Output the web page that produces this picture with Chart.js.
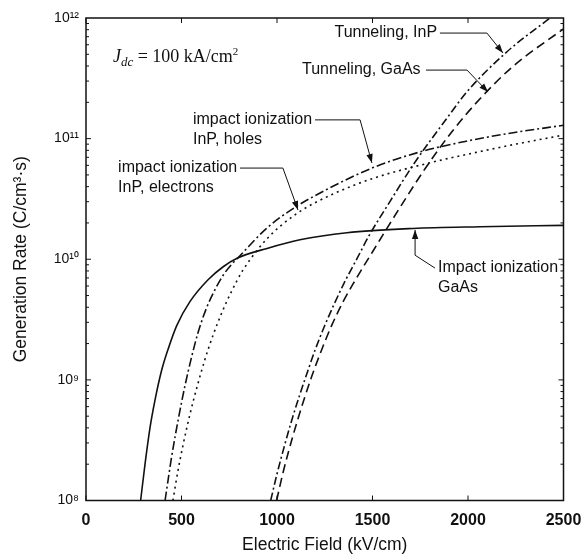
<!DOCTYPE html>
<html>
<head>
<meta charset="utf-8">
<script src="https://cdn.jsdelivr.net/npm/chart.js@4.4.1/dist/chart.umd.min.js"></script>
<style>
html,body{margin:0;padding:0;background:#fff;}
#wrap{width:584px;height:559px;position:relative;}
</style>
</head>
<body>
<div id="wrap"><canvas id="c" width="584" height="559"></canvas></div>
<script>
// ---- axis ticks ----
const xTicks = [0, 500, 1000, 1500, 2000, 2500];
const xTickLabels = ['0', '500', '1000', '1500', '2000', '2500'];
const yTicks = [1e8, 1e9, 1e10, 1e11, 1e12];
const yTickLabels = ['10⁸', '10⁹', '10¹⁰', '10¹¹', '10¹²'];

// ---- series (Electric field kV/cm, generation rate C/cm3·s) ----
const gaasImpactField = [286, 309, 335, 361, 396, 429, 475, 545, 639, 720, 791, 948, 1120, 1366, 1712, 2063, 2500];
const gaasImpactRate  = [1e8, 2.0e8, 4.0e8, 6.76e8, 1.2e9, 1.78e9, 2.82e9, 4.47e9, 6.76e9, 8.71e9, 1.02e10, 1.23e10, 1.45e10, 1.66e10, 1.8e10, 1.86e10, 1.91e10];

const inpHolesField = [414, 429, 448, 484, 518, 553, 588, 632, 676, 719, 764, 806, 948, 1084, 1262, 1503, 1749, 1995, 2236, 2500];
const inpHolesRate  = [1e8, 1.45e8, 2.29e8, 4.79e8, 8.91e8, 1.55e9, 2.51e9, 3.98e9, 5.62e9, 7.41e9, 9.12e9, 1.07e10, 1.82e10, 2.63e10, 3.8e10, 5.75e10, 7.76e10, 9.55e10, 1.12e11, 1.29e11];

const inpElectronsField = [455, 482, 508, 545, 581, 623, 665, 712, 764, 822, 948, 1105, 1293, 1503, 1801, 2026, 2236, 2500];
const inpElectronsRate  = [1e8, 1.78e8, 2.88e8, 5.25e8, 8.71e8, 1.48e9, 2.34e9, 3.63e9, 5.5e9, 8.13e9, 1.48e10, 2.4e10, 3.47e10, 4.68e10, 6.31e10, 7.59e10, 8.91e10, 1.07e11];

const inpTunnelField = [967, 1000, 1040, 1080, 1120, 1160, 1200, 1250, 1300, 1360, 1420, 1480, 1592, 1712, 1890, 1995, 2204, 2429];
const inpTunnelRate  = [1e8, 1.66e8, 2.88e8, 4.79e8, 7.59e8, 1.17e9, 1.78e9, 2.82e9, 4.27e9, 6.76e9, 1.02e10, 1.55e10, 3.02e10, 6.03e10, 1.48e11, 2.45e11, 5.25e11, 1e12];

const gaasTunnelField = [998, 1033, 1086, 1138, 1182, 1234, 1286, 1347, 1400, 1539, 1644, 1775, 1921, 2063, 2236, 2500];
const gaasTunnelRate  = [1e8, 1.74e8, 3.55e8, 6.61e8, 1.07e9, 1.78e9, 2.82e9, 4.47e9, 6.31e9, 1.45e10, 2.69e10, 5.62e10, 1.17e11, 2.14e11, 3.98e11, 8.13e11];

const pts = (xs, ys) => xs.map((x, i) => ({x: x, y: ys[i]}));
const INK = '#111';
const SANS = '"Liberation Sans", Arial, sans-serif';
const SERIF = '"Liberation Serif", "Times New Roman", serif';

function ds(label, xs, ys, dash) {
  return {
    label: label,
    data: pts(xs, ys),
    borderColor: INK,
    borderWidth: 1.6,
    borderDash: dash,
    pointRadius: 0,
    fill: false,
    cubicInterpolationMode: 'monotone'
  };
}

// ---- annotations (anchors in data units) ----
const notes = [
  {lines: ['Tunneling, InP'], x: 1838, y: 7.5e11, align: 'right',
   path: [[1853, 7.5e11], [2099, 7.5e11], [2183, 5.13e11]]},
  {lines: ['Tunneling, GaAs'], x: 1131, y: 3.7e11, align: 'left',
   path: [[1780, 3.7e11], [1995, 3.7e11], [2105, 2.43e11]]},
  {lines: ['impact ionization', 'InP, holes'], x: 560, y: 1.43e11, align: 'left',
   path: [[1199, 1.43e11], [1435, 1.43e11], [1497, 6.28e10]]},
  {lines: ['impact ionization', 'InP, electrons'], x: 168, y: 5.7e10, align: 'left',
   path: [[806, 5.7e10], [1031, 5.7e10], [1110, 2.56e10]]},
  {lines: ['Impact ionization', 'GaAs'], x: 1843, y: 8.45e9, align: 'left',
   path: [[1827, 8.45e9], [1723, 1.08e10], [1723, 1.75e10]]}
];

const framePlugin = {
  id: 'frame',
  afterDatasetsDraw(chart) {
    const {ctx, chartArea: a, scales: {x, y}} = chart;
    ctx.save();
    ctx.strokeStyle = INK;
    ctx.lineWidth = 1.5;
    ctx.setLineDash([]);
    ctx.strokeRect(a.left, a.top, a.right - a.left, a.bottom - a.top);
    ctx.lineWidth = 1;
    ctx.beginPath();
    xTicks.forEach(v => {
      const px = x.getPixelForValue(v);
      ctx.moveTo(px, a.bottom); ctx.lineTo(px, a.bottom - 5);
      ctx.moveTo(px, a.top); ctx.lineTo(px, a.top + 5);
    });
    for (let e = 8; e < 12; e++) {
      for (let m = 1; m < 10; m++) {
        const py = y.getPixelForValue(m * Math.pow(10, e));
        const L = m === 1 ? 5 : 3;
        ctx.moveTo(a.left, py); ctx.lineTo(a.left + L, py);
        ctx.moveTo(a.right, py); ctx.lineTo(a.right - L, py);
      }
    }
    ctx.stroke();

    // annotation texts and leaders
    ctx.fillStyle = INK;
    ctx.font = '16px ' + SANS;
    ctx.textBaseline = 'middle';
    notes.forEach(n => {
      const tx = x.getPixelForValue(n.x);
      const ty = y.getPixelForValue(n.y);
      ctx.textAlign = n.align;
      n.lines.forEach((t, i) => ctx.fillText(t, tx, ty + i * 20));
      const P = n.path.map(p => [x.getPixelForValue(p[0]), y.getPixelForValue(p[1])]);
      ctx.lineWidth = 1;
      ctx.beginPath();
      ctx.moveTo(P[0][0], P[0][1]);
      for (let i = 1; i < P.length; i++) ctx.lineTo(P[i][0], P[i][1]);
      ctx.stroke();
      const [x1, y1] = P[P.length - 2];
      const [x2, y2] = P[P.length - 1];
      const ang = Math.atan2(y2 - y1, x2 - x1);
      const L = 9, W = 3.2;
      ctx.beginPath();
      ctx.moveTo(x2, y2);
      ctx.lineTo(x2 - L * Math.cos(ang) + W * Math.sin(ang), y2 - L * Math.sin(ang) - W * Math.cos(ang));
      ctx.lineTo(x2 - L * Math.cos(ang) - W * Math.sin(ang), y2 - L * Math.sin(ang) + W * Math.cos(ang));
      ctx.closePath();
      ctx.fill();
    });

    // J_dc label
    let jx = x.getPixelForValue(141);
    const jy = y.getPixelForValue(4.3e11);
    ctx.textAlign = 'left';
    ctx.textBaseline = 'alphabetic';
    ctx.font = 'italic 18px ' + SERIF;
    ctx.fillText('J', jx, jy); jx += ctx.measureText('J').width;
    ctx.font = 'italic 13px ' + SERIF;
    ctx.fillText('dc', jx, jy + 4); jx += ctx.measureText('dc').width;
    ctx.font = '18px ' + SERIF;
    ctx.fillText(' = 100 kA/cm', jx, jy); jx += ctx.measureText(' = 100 kA/cm').width;
    ctx.font = '11px ' + SERIF;
    ctx.fillText('2', jx, jy - 7);
    ctx.restore();
  }
};

new Chart(document.getElementById('c'), {
  type: 'line',
  data: {
    datasets: [
      ds('Impact ionization, GaAs', gaasImpactField, gaasImpactRate, []),
      ds('impact ionization, InP, holes', inpHolesField, inpHolesRate, [9, 3, 2, 3]),
      ds('impact ionization, InP, electrons', inpElectronsField, inpElectronsRate, [2, 4]),
      ds('Tunneling, InP', inpTunnelField, inpTunnelRate, [8, 3, 2, 3]),
      ds('Tunneling, GaAs', gaasTunnelField, gaasTunnelRate, [9, 5])
    ]
  },
  options: {
    responsive: false,
    animation: false,
    devicePixelRatio: 1,
    layout: {padding: {top: 18, right: 20.5, left: 0, bottom: 0}},
    plugins: {legend: {display: false}, tooltip: {enabled: false}},
    scales: {
      x: {
        type: 'linear', min: 0, max: 2500,
        afterBuildTicks: s => { s.ticks = xTicks.map(v => ({value: v})); },
        afterFit: s => { s.height = 58.5; s.paddingLeft = 0; s.paddingRight = 0; },
        grid: {display: false, drawTicks: false},
        border: {display: false},
        ticks: {color: INK, padding: 10, maxRotation: 0,
                callback: (v, i) => xTickLabels[i],
                font: {family: SANS, size: 16, weight: 'bold'}},
        title: {display: true, text: 'Electric Field (kV/cm)', color: INK,
                font: {family: SANS, size: 17.5},
                padding: {top: 0, bottom: 3}}
      },
      y: {
        type: 'logarithmic', min: 1e8, max: 1e12,
        afterBuildTicks: s => { s.ticks = yTicks.map(v => ({value: v})); },
        afterFit: s => { s.width = 86; s.paddingTop = 0; s.paddingBottom = 0; },
        grid: {display: false, drawTicks: false},
        border: {display: false},
        ticks: {color: INK, padding: 7,
                callback: (v, i) => yTickLabels[i],
                font: {family: SANS, size: 14}},
        title: {display: true, text: 'Generation Rate (C/cm³·s)', color: INK,
                font: {family: SANS, size: 17.5},
                padding: {top: 11, bottom: 0}}
      }
    }
  },
  plugins: [framePlugin]
});
</script>
</body>
</html>
